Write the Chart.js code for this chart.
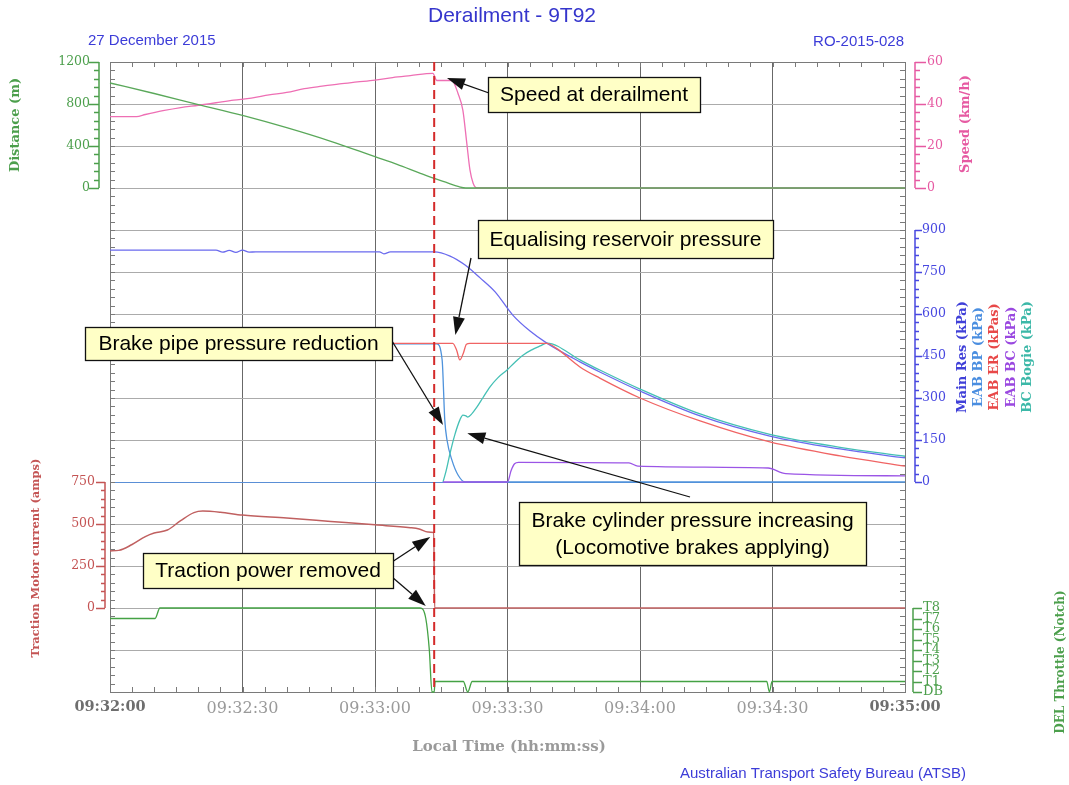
<!DOCTYPE html>
<html>
<head>
<meta charset="utf-8">
<script src="https://cdn.jsdelivr.net/npm/chart.js@4.4.0/dist/chart.umd.min.js"></script>
<style>
  html, body { margin: 0; padding: 0; background: #fff; }
  #wrap { width: 1069px; height: 785px; position: relative; }
</style>
</head>
<body>
<div id="wrap"><canvas id="grafico"></canvas></div>
<script>
// time is in seconds after 09:32:00
const derailTime = 73.4;

// top panel
const distTime = [0, 10, 20, 30, 40, 50, 60, 65, 70, 73.4, 76, 79, 80.6, 180];
const distM = [1000, 900, 795, 692, 575, 445, 298, 225, 145, 92, 55, 12, 0, 0];

const speedTime = [0, 6, 8, 12, 16, 20, 24, 28, 32, 36, 40, 44, 48, 52, 56, 60, 64, 68, 73.1, 74.0, 77.4, 78.8, 79.9, 80.8, 81.5, 82.2, 83.1, 180];
const speedKmh = [34, 34, 35, 36.8, 38.3, 39.4, 40.6, 41.8, 42.8, 44.3, 45.5, 47.3, 48.5, 49.6, 50.5, 51.4, 52.6, 53.5, 54.6, 51.2, 51.2, 45, 37, 21, 8.6, 2.4, 0, 0];

// middle panel (kPa)
const mainResTime = [0, 24, 25.5, 27, 28.5, 30, 31.5, 33, 61, 62, 63.5, 73.4, 77.0, 80.4, 83.8, 87.2, 91.2, 95.1, 98.9, 106.4, 110.9, 120, 133.6, 149.4, 165.3, 180];
const mainResKpa = [828, 828, 821, 827, 820, 828, 821, 822, 822, 815, 822, 822, 807, 775, 729, 679, 596, 539, 496, 429, 393, 325, 236, 164, 118, 86];

const bpTime = [0, 74.0, 75.2, 75.8, 76.3, 77.4, 78.8, 80.4, 180];
const bpKpa = [493, 493, 436, 221, 150, 79, 25, 0, 0];

const erTime = [0, 77.6, 78.5, 79.2, 80.0, 80.7, 81.5, 98.9, 101, 106.4, 110.9, 120, 133.6, 149.4, 165.3, 180];
const erKpa = [495, 495, 470, 436, 460, 492, 495, 495, 478, 411, 371, 300, 218, 143, 93, 57];

const bcTime = [75.4, 90, 90.8, 91.6, 92.5, 117.5, 119.5, 149, 153, 180];
const bcKpa = [0, 0, 40, 65, 70, 68, 57, 50, 30, 22];

const bogieTime = [75.4, 76.1, 77.0, 78.1, 79.2, 79.9, 80.6, 81.0, 82.0, 83.1, 84.4, 86.0, 87.8, 89.9, 91.7, 93.5, 95.5, 97.4, 98.9, 106.4, 110.9, 120, 133.6, 149.4, 165.3, 180];
const bogieKpa = [0, 40, 103, 170, 221, 239, 236, 232, 245, 268, 300, 339, 372, 400, 428, 453, 472, 486, 496, 436, 400, 332, 243, 170, 124, 92];

// bottom panel
const curTime = [0, 2, 5, 8, 10, 13, 16, 19, 21, 25, 30, 40, 50, 60, 68, 70, 72, 73.3, 73.5, 180];
const curAmps = [340, 343, 378, 425, 446, 464, 520, 568, 577, 570, 553, 535, 515, 495, 478, 470, 452, 450, 0, 0];

const thrTime = [0, 10.2, 11.3, 70.2, 71.5, 72.3, 72.9, 73.4, 73.6, 80.0, 81.0, 82.0, 148.7, 149.3, 149.9, 180];
const thrNotch = [7, 7, 8, 8, 7, 4, 0, 0, 1, 1, 0, 1, 1, 0, 1, 1];
const notchLabels = ['DB', 'T1', 'T2', 'T3', 'T4', 'T5', 'T6', 'T7', 'T8'];

// colours
const verde = '#4c9f4c';
const rosa = '#e65aa2';
const azulEixo = '#4848e0';
const vermelho = '#c45454';
const cinza = '#ababab';
const linhaZero = '#5a8fd6';

function pontos(ts, vs) {
    return ts.map((t, i) => ({x: t, y: vs[i]}));
}

function hora(v) {
    const s = 9 * 3600 + 32 * 60 + Math.round(v);
    const p = n => String(n).padStart(2, '0');
    return p(Math.floor(s / 3600)) + ':' + p(Math.floor(s / 60) % 60) + ':' + p(s % 60);
}

const fonteTick = {family: 'DejaVu Serif', size: 12.5};

// annotation boxes (pixel layout) with arrow tips given in data units
const notas = [
    {lines: ['Speed at derailment'], box: [488, 77, 212, 35],
     arrows: [{from: [489, 93], axis: 'ySpeed', t: 76.3, v: 52.4}]},
    {lines: ['Equalising reservoir pressure'], box: [478, 220, 295, 38],
     arrows: [{from: [471, 258], axis: 'yPres', t: 78.2, v: 525}]},
    {lines: ['Brake pipe pressure reduction'], box: [85, 327, 307, 33],
     arrows: [{from: [392, 341], axis: 'yPres', t: 75.4, v: 204}]},
    {lines: ['Brake cylinder pressure increasing', '(Locomotive brakes applying)'], box: [519, 502, 347, 63],
     arrows: [{from: [690, 497], axis: 'yPres', t: 80.9, v: 174}]},
    {lines: ['Traction power removed'], box: [143, 553, 250, 35],
     arrows: [{from: [392, 562], axis: 'yCur', t: 72.5, v: 423}, {from: [392, 577], axis: 'yCur', t: 71.5, v: 12}]}
];

// axis spines drawn a little away from the plot frame
const spines = [
    {id: 'yDist', side: -1, color: verde, gap: 11, major: 10, minor: 5, step: 80},
    {id: 'yCur', side: -1, color: vermelho, gap: 5, major: 9, minor: 4, step: 50},
    {id: 'ySpeed', side: 1, color: rosa, gap: 10, major: 11, minor: 5, step: 4},
    {id: 'yPres', side: 1, color: azulEixo, gap: 10, major: 7, minor: 4, step: 30},
    {id: 'yThr', side: 1, color: verde, gap: 8, major: 9, minor: 9, step: 1}
];

const titulosEixo = [
    {text: 'Distance (m)', color: verde, x: 16, y: 125, font: 'bold 13px "DejaVu Serif"'},
    {text: 'Traction Motor current (amps)', color: vermelho, x: 36, y: 558, font: 'bold 11.5px "DejaVu Serif"'},
    {text: 'Speed (km/h)', color: rosa, x: 966, y: 124, font: 'bold 13px "DejaVu Serif"'},
    {text: 'Main Res (kPa)', color: '#4040d8', x: 963, y: 357, font: 'bold 13px "DejaVu Serif"'},
    {text: 'EAB BP (kPa)', color: '#4a8ee0', x: 979, y: 357, font: 'bold 13px "DejaVu Serif"'},
    {text: 'EAB ER (kPas)', color: '#e84848', x: 995, y: 357, font: 'bold 13px "DejaVu Serif"'},
    {text: 'EAB BC (kPa)', color: '#9a48e0', x: 1012, y: 357, font: 'bold 13px "DejaVu Serif"'},
    {text: 'BC Bogie (kPa)', color: '#3cb8a8', x: 1028, y: 357, font: 'bold 13px "DejaVu Serif"'},
    {text: 'DEL Throttle (Notch)', color: verde, x: 1061, y: 662, font: 'bold 12px "DejaVu Serif"'}
];

function seta(ctx, x0, y0, x1, y1) {
    const ang = Math.atan2(y1 - y0, x1 - x0);
    const len = 18, half = 6;
    const bx = x1 - len * Math.cos(ang), by = y1 - len * Math.sin(ang);
    ctx.beginPath();
    ctx.moveTo(x0, y0);
    ctx.lineTo(bx, by);
    ctx.stroke();
    ctx.beginPath();
    ctx.moveTo(x1, y1);
    ctx.lineTo(bx + half * Math.sin(ang), by - half * Math.cos(ang));
    ctx.lineTo(bx - half * Math.sin(ang), by + half * Math.cos(ang));
    ctx.closePath();
    ctx.fill();
}

const enfeites = {
    id: 'enfeites',
    beforeDatasetsDraw(chart) {
        const {ctx, chartArea: a, scales} = chart;
        ctx.save();
        ctx.strokeStyle = '#7a7a7a';
        ctx.lineWidth = 1;
        ctx.strokeRect(Math.round(a.left) + 0.5, Math.round(a.top) + 0.5, Math.round(a.width), Math.round(a.height));
        ctx.beginPath();
        // small ticks along the frame
        for (let t = 5; t < 180; t += 5) {
            const px = Math.round(scales.x.getPixelForValue(t)) + 0.5;
            ctx.moveTo(px, a.top); ctx.lineTo(px, a.top + 5);
            ctx.moveTo(px, a.bottom); ctx.lineTo(px, a.bottom - 5);
        }
        for (const id of ['yDist', 'gapL1', 'yCur', 'gapL2']) {
            const s = scales[id];
            const step = s.options.ticks.stepSize / 5;
            for (let v = s.min; v <= s.max + 1e-9; v += step) {
                const py = Math.round(s.getPixelForValue(v)) + 0.5;
                ctx.moveTo(a.left, py); ctx.lineTo(a.left + 5, py);
                ctx.moveTo(a.right, py); ctx.lineTo(a.right - 5, py);
            }
        }
        ctx.stroke();
        ctx.restore();
    },
    afterDatasetsDraw(chart) {
        const {ctx, chartArea: a, scales} = chart;
        ctx.save();
        // derailment marker
        const dx = scales.x.getPixelForValue(derailTime);
        ctx.strokeStyle = '#d42a2a';
        ctx.lineWidth = 2;
        ctx.setLineDash([9, 5]);
        ctx.beginPath();
        ctx.moveTo(dx, a.top);
        ctx.lineTo(dx, a.bottom);
        ctx.stroke();
        ctx.setLineDash([]);

        // coloured axis spines
        for (const sp of spines) {
            const s = scales[sp.id];
            const x0 = sp.side < 0 ? a.left - sp.gap : a.right + sp.gap;
            ctx.strokeStyle = sp.color;
            ctx.lineWidth = 1.5;
            ctx.beginPath();
            ctx.moveTo(x0, s.getPixelForValue(s.min));
            ctx.lineTo(x0, s.getPixelForValue(s.max));
            const big = s.options.ticks.stepSize;
            for (let v = s.min; v <= s.max + 1e-9; v += sp.step) {
                const py = Math.round(s.getPixelForValue(v)) + 0.5;
                const isMajor = Math.abs(v / big - Math.round(v / big)) < 1e-6;
                const l = isMajor ? sp.major : sp.minor;
                ctx.moveTo(x0, py);
                ctx.lineTo(x0 + sp.side * l, py);
            }
            ctx.stroke();
        }

        // annotation boxes and arrows
        ctx.font = '21px "Liberation Sans", Arial, sans-serif';
        ctx.textAlign = 'center';
        ctx.textBaseline = 'middle';
        for (const n of notas) {
            const [bx, by, bw, bh] = n.box;
            ctx.strokeStyle = '#111';
            ctx.fillStyle = '#111';
            ctx.lineWidth = 1.3;
            for (const ar of n.arrows) {
                const tx = scales.x.getPixelForValue(ar.t);
                const ty = scales[ar.axis].getPixelForValue(ar.v);
                seta(ctx, ar.from[0], ar.from[1], tx, ty);
            }
            ctx.fillStyle = '#ffffc6';
            ctx.fillRect(bx, by, bw, bh);
            ctx.strokeRect(bx + 0.5, by + 0.5, bw, bh);
            ctx.fillStyle = '#000';
            const lh = 27;
            const y0 = by + bh / 2 - (n.lines.length - 1) * lh / 2 + 1;
            n.lines.forEach((ln, i) => ctx.fillText(ln, bx + bw / 2, y0 + i * lh));
        }
        ctx.restore();
    },
    afterDraw(chart) {
        const {ctx} = chart;
        ctx.save();
        ctx.textBaseline = 'middle';
        ctx.fillStyle = '#3535cc';
        ctx.textAlign = 'center';
        ctx.font = '21px "Liberation Sans", Arial, sans-serif';
        ctx.fillText('Derailment - 9T92', 512, 16);
        ctx.fillStyle = '#3c3cd8';
        ctx.font = '15px "Liberation Sans", Arial, sans-serif';
        ctx.textAlign = 'left';
        ctx.fillText('27 December 2015', 88, 41);
        ctx.fillText('Australian Transport Safety Bureau (ATSB)', 680, 774);
        ctx.textAlign = 'right';
        ctx.fillText('RO-2015-028', 904, 42);

        ctx.textAlign = 'center';
        ctx.fillStyle = '#9a9a9a';
        ctx.font = 'bold 15px "DejaVu Serif"';
        ctx.fillText('Local Time (hh:mm:ss)', 509, 747);

        for (const t of titulosEixo) {
            ctx.save();
            ctx.translate(t.x, t.y);
            ctx.rotate(-Math.PI / 2);
            ctx.fillStyle = t.color;
            ctx.font = t.font;
            ctx.fillText(t.text, 0, 0);
            ctx.restore();
        }
        ctx.restore();
    }
};

function linha(label, ts, vs, eixo, cor, w) {
    return {
        label: label,
        data: pontos(ts, vs),
        yAxisID: eixo,
        borderColor: cor,
        borderWidth: w || 1.3,
        pointRadius: 0,
        fill: false,
        clip: false,
        cubicInterpolationMode: 'monotone'
    };
}

const largura = pos => sc => { sc.width = pos === 'left' ? 60 : 50; };

const ctx = document.getElementById('grafico');

const config = {
    type: 'line',
    data: {
        datasets: [
            linha('EAB BC (kPa)', bcTime, bcKpa, 'yPres', '#9b55e6'),
            linha('EAB ER (kPas)', erTime, erKpa, 'yPres', '#f06464'),
            linha('Main Res (kPa)', mainResTime, mainResKpa, 'yPres', '#6a6aee'),
            linha('BC Bogie (kPa)', bogieTime, bogieKpa, 'yPres', '#45c0b5'),
            linha('EAB BP (kPa)', bpTime, bpKpa, 'yPres', '#4f93dc'),
            linha('Distance (m)', distTime, distM, 'yDist', '#5aa85a'),
            linha('Speed (km/h)', speedTime, speedKmh, 'ySpeed', '#ee6fb4'),
            linha('Traction Motor current (amps)', curTime, curAmps, 'yCur', '#c06060', 1.5),
            linha('DEL Throttle (Notch)', thrTime, thrNotch, 'yThr', '#44a244')
        ]
    },
    options: {
        responsive: true,
        maintainAspectRatio: false,
        animation: false,
        layout: {padding: {left: 50, right: 114, top: 62, bottom: 33}},
        plugins: {legend: {display: false}, tooltip: {enabled: false}},
        scales: {
            x: {
                type: 'linear', min: 0, max: 180,
                border: {display: false},
                grid: {color: '#686868', drawTicks: false},
                ticks: {
                    stepSize: 30, autoSkip: false, maxRotation: 0, padding: 7,
                    callback: v => hora(v),
                    font: c => (c.index === 0 || c.index === 6)
                        ? {family: 'DejaVu Serif', size: 14.5, weight: 'bold'}
                        : {family: 'DejaVu Serif', size: 16},
                    color: c => (c.index === 0 || c.index === 6) ? '#6e6e6e' : '#9a9a9a'
                },
                afterFit: sc => { sc.height = 60; }
            },
            // left stack
            yDist: {
                type: 'linear', axis: 'y', position: 'left', stack: 'esq', stackWeight: 3, weight: 4,
                min: 0, max: 1200, border: {display: false},
                grid: {color: cinza, drawTicks: false},
                ticks: {stepSize: 400, color: verde, font: fonteTick, padding: 20, callback: v => String(v)},
                afterFit: largura('left')
            },
            gapL1: {
                type: 'linear', axis: 'y', position: 'left', stack: 'esq', stackWeight: 7, weight: 3,
                min: 0, max: 7, border: {display: false},
                grid: {color: c => c.tick && c.tick.value === 0 ? linhaZero : cinza, drawTicks: false},
                ticks: {stepSize: 1, display: false},
                afterFit: largura('left')
            },
            yCur: {
                type: 'linear', axis: 'y', position: 'left', stack: 'esq', stackWeight: 3, weight: 2,
                min: 0, max: 750, border: {display: false},
                grid: {color: c => c.tick && c.tick.value === 750 ? linhaZero : cinza, drawTicks: false},
                ticks: {stepSize: 250, color: vermelho, font: fonteTick, padding: 15, callback: v => String(v)},
                afterFit: largura('left')
            },
            gapL2: {
                type: 'linear', axis: 'y', position: 'left', stack: 'esq', stackWeight: 2, weight: 1,
                min: 0, max: 2, border: {display: false},
                grid: {color: cinza, drawTicks: false},
                ticks: {stepSize: 1, display: false},
                afterFit: largura('left')
            },
            // right stack
            ySpeed: {
                type: 'linear', axis: 'y', position: 'right', stack: 'dir', stackWeight: 3, weight: 1,
                min: 0, max: 60, border: {display: false},
                grid: {drawOnChartArea: false, drawTicks: false},
                ticks: {stepSize: 20, color: rosa, font: fonteTick, padding: 22, callback: v => String(v)},
                afterFit: largura('right')
            },
            gapR1: {
                type: 'linear', axis: 'y', position: 'right', stack: 'dir', stackWeight: 1, weight: 2,
                min: 0, max: 1, border: {display: false},
                grid: {drawOnChartArea: false, drawTicks: false},
                ticks: {stepSize: 1, display: false},
                afterFit: largura('right')
            },
            yPres: {
                type: 'linear', axis: 'y', position: 'right', stack: 'dir', stackWeight: 6, weight: 3,
                min: 0, max: 900, border: {display: false},
                grid: {drawOnChartArea: false, drawTicks: false},
                ticks: {stepSize: 150, color: azulEixo, font: fonteTick, padding: 17, callback: v => String(v)},
                afterFit: largura('right')
            },
            gapR2: {
                type: 'linear', axis: 'y', position: 'right', stack: 'dir', stackWeight: 3, weight: 4,
                min: 0, max: 3, border: {display: false},
                grid: {drawOnChartArea: false, drawTicks: false},
                ticks: {stepSize: 1, display: false},
                afterFit: largura('right')
            },
            yThr: {
                type: 'linear', axis: 'y', position: 'right', stack: 'dir', stackWeight: 2, weight: 5,
                min: 0, max: 8, border: {display: false},
                grid: {drawOnChartArea: false, drawTicks: false},
                ticks: {stepSize: 1, autoSkip: false, color: verde, font: {family: 'DejaVu Serif', size: 13}, padding: 18,
                        callback: v => notchLabels[v]},
                afterFit: largura('right')
            }
        }
    },
    plugins: [enfeites]
};

const myChart = new Chart(ctx, config);
</script>
</body>
</html>
